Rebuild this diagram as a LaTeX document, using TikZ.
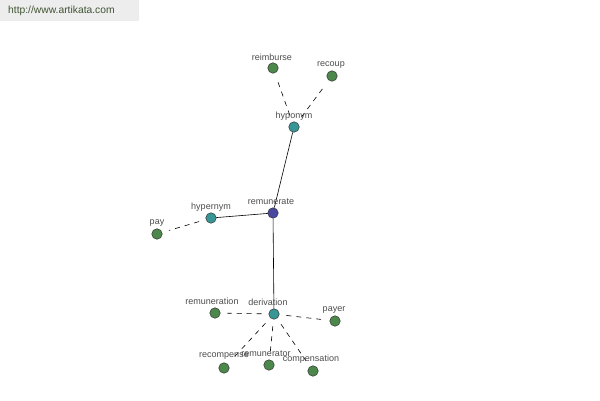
\documentclass[tikz,border=0pt]{standalone}
\usepackage{fontspec}
\setmainfont{Liberation Sans}
\definecolor{ngreen}{RGB}{76,136,76}
\definecolor{nteal}{RGB}{56,150,150}
\definecolor{nblue}{RGB}{72,72,160}
\definecolor{urlc}{RGB}{64,84,52}
\begin{document}
\begin{tikzpicture}[x=1pt,y=-1pt,
  dot/.style={circle,draw=black!80,line width=0.5pt,minimum size=10.5pt,inner sep=0pt},
  gdot/.style={dot,fill=ngreen},
  tdot/.style={dot,fill=nteal},
  bdot/.style={dot,fill=nblue},
  lbl/.style={font=\fontsize{9}{10}\selectfont,text=black!70,inner sep=0pt},
  solidedge/.style={draw=black,line width=0.6pt},
  dashedge/.style={draw=black,line width=0.6pt,dash pattern=on 5pt off 5pt,shorten <=7pt,shorten >=7pt}]
\useasboundingbox (0,0) rectangle (600,400);
\fill[black!7] (0,0) rectangle (139,21);
\node[anchor=west,font=\fontsize{10.3}{12}\selectfont,text=urlc,inner sep=0pt] (url) at (8,11) {http://www.artikata.com};
% edges
\coordinate (cremunerate) at (273,213);
\coordinate (chyponym) at (294,127);
\coordinate (creimburse) at (273,68);
\coordinate (crecoup) at (332,76);
\coordinate (chypernym) at (211,218);
\coordinate (cpay) at (157,234);
\coordinate (cderivation) at (274,314);
\coordinate (cremuneration) at (215,313);
\coordinate (cpayer) at (335,321);
\coordinate (crecompense) at (224,368);
\coordinate (cremunerator) at (269,365);
\coordinate (ccompensation) at (313,371);
% nodes
\node[bdot] (remunerate) at (cremunerate) {};
\node[tdot] (hyponym) at (chyponym) {};
\node[gdot] (reimburse) at (creimburse) {};
\node[gdot] (recoup) at (crecoup) {};
\node[tdot] (hypernym) at (chypernym) {};
\node[gdot] (pay) at (cpay) {};
\node[tdot] (derivation) at (cderivation) {};
\node[gdot] (remuneration) at (cremuneration) {};
\node[gdot] (payer) at (cpayer) {};
\node[gdot] (recompense) at (crecompense) {};
\node[gdot] (remunerator) at (cremunerator) {};
\node[gdot] (compensation) at (ccompensation) {};
\draw[solidedge] (remunerate) -- (hyponym);
\draw[solidedge] (remunerate) -- (hypernym);
\draw[solidedge] (remunerate) -- (derivation);
\draw[dashedge] (hyponym) -- (reimburse);
\draw[dashedge] (hyponym) -- (recoup);
\draw[dashedge] (hypernym) -- (pay);
\draw[dashedge] (derivation) -- (remuneration);
\draw[dashedge] (derivation) -- (payer);
\draw[dashedge] (derivation) -- (recompense);
\draw[dashedge] (derivation) -- (remunerator);
\draw[dashedge] (derivation) -- (compensation);
% labels
\node[lbl] (l1) at (271,202) {remunerate};
\node[lbl] (l2) at (294,116) {hyponym};
\node[lbl] (l3) at (272,57) {reimburse};
\node[lbl] (l4) at (331,65) {recoup};
\node[lbl] (l5) at (211,207) {hypernym};
\node[lbl] (l6) at (157,223) {pay};
\node[lbl] (l7) at (268,302) {derivation};
\node[lbl] (l8) at (212,301) {remuneration};
\node[lbl] (l9) at (334,310) {payer};
\node[lbl] (l10) at (224,356) {recompense};
\node[lbl] (l11) at (266,354) {remunerator};
\node[lbl] (l12) at (311,359) {compensation};
\end{tikzpicture}
\end{document}
